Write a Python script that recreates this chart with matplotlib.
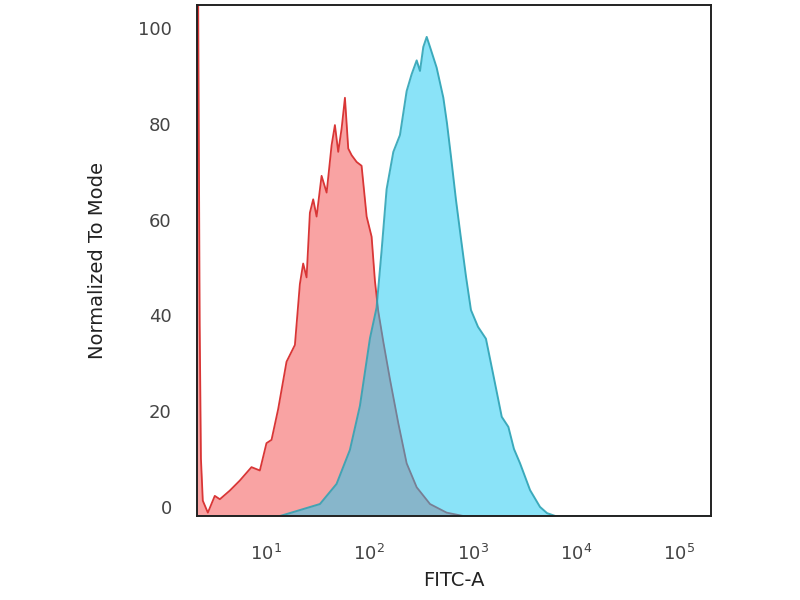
import numpy as np
import matplotlib
matplotlib.use("Agg")
from matplotlib import pyplot as plt
import matplotlib.transforms as mtransforms

# log10(FITC-A) positions and normalized counts
red_log = [0.30, 0.345, 0.36, 0.372, 0.390, 0.439, 0.506, 0.555, 0.651, 0.748,
           0.861, 0.942, 1.006, 1.055, 1.119, 1.200, 1.281, 1.329, 1.361, 1.394,
           1.426, 1.458, 1.491, 1.539, 1.588, 1.636, 1.668, 1.700, 1.733, 1.765,
           1.797, 1.830, 1.878, 1.926, 1.975, 2.023, 2.055, 2.087, 2.136, 2.200,
           2.281, 2.362, 2.459, 2.588, 2.749, 2.910, 5.40]
red_val = [110, 110, 40, 12, 3.2, 0.7, 4.2, 3.5, 5.3, 7.4,
           10.2, 9.5, 15.2, 15.9, 22.3, 32.2, 35.7, 48.4, 52.7, 49.8,
           63.3, 66.1, 62.5, 71.0, 67.5, 77.4, 81.6, 76.0, 80.9, 87.3,
           76.7, 75.3, 73.9, 73.1, 62.5, 58.3, 49.1, 42.8, 36.4, 28.6,
           19.4, 11.0, 6.0, 2.5, 0.7, 0, 0]

blue_log = [0.30, 1.136, 1.200, 1.523, 1.684, 1.813, 1.910, 2.007, 2.071, 2.120,
            2.168, 2.233, 2.297, 2.362, 2.410, 2.459, 2.491, 2.523, 2.556, 2.588,
            2.652, 2.717, 2.752, 2.791, 2.839, 2.887, 2.936, 2.984, 3.052, 3.129,
            3.197, 3.282, 3.346, 3.400, 3.459, 3.556, 3.652, 3.720, 3.800, 5.40]
blue_val = [0, 0, 0.4, 2.5, 6.7, 13.8, 23.0, 37.1, 43.5, 55.5,
            68.2, 76.0, 79.5, 88.7, 92.2, 95.1, 92.9, 97.9, 100, 97.9,
            93.6, 87.3, 82, 75, 66, 58, 50, 43, 39.5, 37,
            29.8, 20.7, 18.6, 14, 11.0, 5.4, 1.9, 0.6, 0, 0]

x_ticks = [10, 100, 1000, 10000, 100000]
x_tick_labels = [r"$10^{1}$", r"$10^{2}$", r"$10^{3}$", r"$10^{4}$", r"$10^{5}$"]
y_ticks = [0, 20, 40, 60, 80, 100]

red_x = 10 ** np.array(red_log)
blue_x = 10 ** np.array(blue_log)

fig = plt.figure(figsize=(8, 6), dpi=100)
ax = fig.add_axes([0.246, 0.14, 0.643, 0.852])

ax.fill_between(red_x, red_val, 0, color="#F9A3A3", linewidth=0, zorder=1)
ax.plot(red_x, red_val, color="#D93636", linewidth=1.3, zorder=2)
ax.fill_between(blue_x, blue_val, 0, color="#17C9F3", alpha=0.5, linewidth=0, zorder=3)
ax.plot(blue_x, blue_val, color="#2FA3B5", linewidth=1.4, alpha=0.9, zorder=4)

ax.set_xscale("log")
ax.set_xlim(10 ** 0.332, 10 ** 5.308)
ax.set_ylim(0, 106.7)
ax.set_xticks(x_ticks)
ax.set_xticklabels(x_tick_labels)
ax.minorticks_off()
ax.set_yticks(y_ticks)
ax.tick_params(axis="x", length=0, pad=20, labelsize=13, labelcolor="#444444")
ax.tick_params(axis="y", length=0, pad=18, labelsize=13, labelcolor="#444444")

# labels sit a little above their tick values in the original
offset = mtransforms.ScaledTranslation(0, 0.09, fig.dpi_scale_trans)
for lbl in ax.get_yticklabels():
    lbl.set_transform(lbl.get_transform() + offset)

for sp in ax.spines.values():
    sp.set_color("#222222")
    sp.set_linewidth(1.4)
    sp.set_zorder(5)

ax.set_xlabel("FITC-A", fontsize=14, color="#222222")
ax.set_ylabel("Normalized To Mode", fontsize=14, color="#222222")
ax.xaxis.set_label_coords(0.5, -0.108)
ax.yaxis.set_label_coords(-0.175, 0.5)

plt.savefig("out.png", dpi=100)
